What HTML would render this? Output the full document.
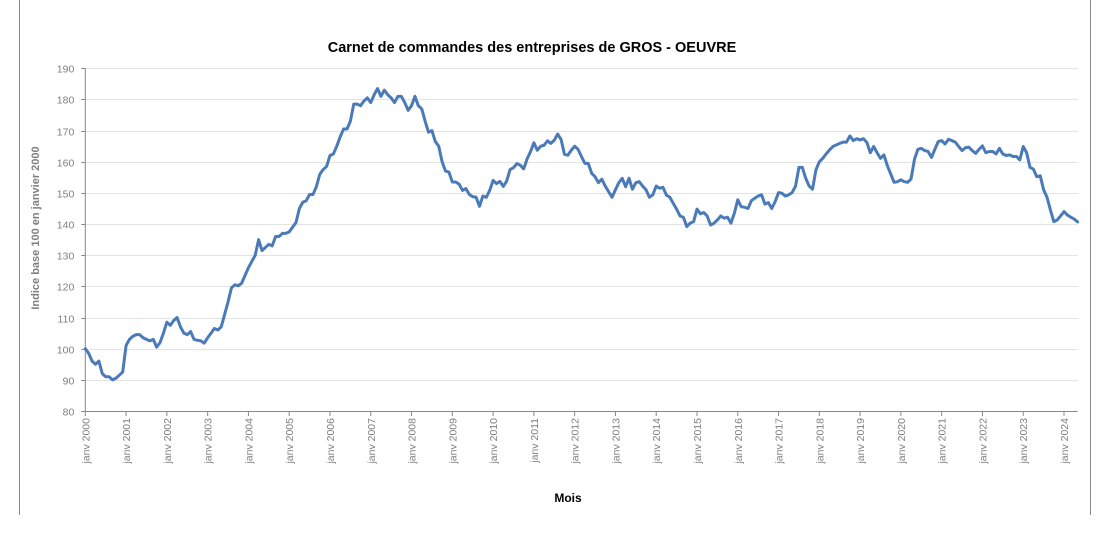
<!DOCTYPE html>
<html><head><meta charset="utf-8">
<style>
html,body{margin:0;padding:0;background:#fff;}
svg{display:block;font-family:"Liberation Sans",sans-serif;}
</style></head>
<body>
<svg id="chart" width="1101" height="545" viewBox="0 0 1101 545">
<line x1="19.5" y1="0" x2="19.5" y2="515" stroke="#888" stroke-width="1"/>
<line x1="1090.5" y1="0" x2="1090.5" y2="515" stroke="#888" stroke-width="1"/>
<text x="532" y="52" text-anchor="middle" font-size="14.5" font-weight="bold" fill="#000">Carnet de commandes des entreprises de GROS - OEUVRE</text>
<text transform="translate(39,228) rotate(-90)" text-anchor="middle" font-size="11" font-weight="bold" fill="#7f7f7f">Indice base 100 en janvier 2000</text>
<text x="568" y="502" text-anchor="middle" font-size="12" font-weight="bold" fill="#000">Mois</text>
<g id="grid"></g>
<g id="axes"></g>
<g id="series"></g>
</svg>
<script>
const yTicks = [80,90,100,110,120,130,140,150,160,170,180,190];
const yearLabels = ["janv 2000","janv 2001","janv 2002","janv 2003","janv 2004","janv 2005","janv 2006","janv 2007","janv 2008","janv 2009","janv 2010","janv 2011","janv 2012","janv 2013","janv 2014","janv 2015","janv 2016","janv 2017","janv 2018","janv 2019","janv 2020","janv 2021","janv 2022","janv 2023","janv 2024"];
const values = [
100,98.5,96,95,96,92,91,91,90,90.5,91.5,92.5,
101,103,104,104.5,104.5,103.5,103,102.5,103,100.5,102,105,
108.5,107.5,109,110,107,105,104.5,105.5,103,102.7,102.5,101.8,
103.5,105,106.5,106,107,111,115,119.5,120.5,120.2,121,123.5,
126,128,130,135,131.5,132.5,133.5,133,136,136,137,137,
137.5,139,140.5,145,147,147.5,149.5,149.5,152,156,157.5,158.5,
162,162.5,165,168,170.5,170.5,173,178.5,178.5,178,179.5,180.5,
179,181.5,183.5,181,183,181.5,180.5,179,181,181,179,176.5,
178,181,178,177,173,169.5,170,166.5,165,160,157,156.7,
153.5,153.5,152.8,150.8,151.4,149.5,148.8,148.6,145.7,149,148.6,150.8,
154,153,153.7,152.1,153.8,157.5,158.1,159.4,158.9,157.7,160.9,163.2,
166.1,163.7,165,165.3,166.7,165.9,166.9,168.9,167.2,162.4,162.1,163.7,
165,164,161.7,159.5,159.5,156.3,155.2,153.3,154.4,152.2,150.4,148.6,
151,153.3,154.7,152,154.7,151.2,153.3,153.6,152.2,151,148.6,149.4,
152.2,151.5,151.8,149.3,148.6,146.7,144.8,142.6,142.2,139.2,140.3,140.8,
144.8,143.3,143.7,142.6,139.7,140.3,141.3,142.6,141.9,142.2,140.3,143.5,
147.8,145.6,145.4,145,147.5,148.3,149,149.4,146.4,146.9,145,147.2,
150.1,149.9,149,149.4,150.1,152.2,158.2,158.2,154.7,152.2,151.2,157.4,
160,161.1,162.5,163.8,164.9,165.4,165.9,166.3,166.3,168.3,166.8,167.4,
167,167.4,166.2,162.9,164.9,162.9,161.1,162.2,158.8,156.1,153.4,153.6,
154.2,153.6,153.4,154.5,160.8,164,164.3,163.6,163.3,161.4,164,166.5,
166.8,165.7,167.2,166.8,166.3,164.9,163.6,164.5,164.7,163.6,162.7,164,
165.1,162.9,163.3,163.3,162.5,164.3,162.5,162,162.2,161.7,161.7,160.6,
164.9,162.9,158.2,157.6,155.2,155.5,151,148.6,144.5,140.8,141.3,142.6,
144,142.9,142.2,141.6,140.7
];
const NS = "http://www.w3.org/2000/svg";
const X0 = 85.3, X1 = 1077.7, Y0 = 411, Y1 = 68.3, YMIN = 80, YMAX = 190;
const monthW = (1064 - 85.3) / 288;
function xScale(i){ return X0 + i * monthW; }
function yScale(v){ return Y0 - (v - YMIN) / (YMAX - YMIN) * (Y0 - Y1); }
function mk(tag, attrs, parent){ const e = document.createElementNS(NS, tag); for (const k in attrs) e.setAttribute(k, attrs[k]); parent.appendChild(e); return e; }
const grid = document.getElementById('grid');
const axes = document.getElementById('axes');
const series = document.getElementById('series');
yTicks.forEach(t => {
  const y = Math.round(yScale(t)) + 0.5;
  if (t !== YMIN) {
    const g = mk('line', {x1: X0, x2: X1, y1: y, y2: y, stroke: '#e3e3e3', 'stroke-width': 1}, grid);
    
    
  }
  const tk = mk('line', {x1: X0 - 4, x2: X0, y1: y, y2: y, stroke: '#888'}, axes);
  
  
  const lb = mk('text', {x: X0 - 11, y: y + 4, 'text-anchor': 'end', 'font-size': 10.5, fill: '#7f7f7f'}, axes);
  lb.textContent = t;
  
  
});
const yAxis = mk('line', {x1: X0, x2: X0, y1: Y1, y2: Y0, stroke: '#888'}, axes);


const xAxis = mk('line', {x1: X0, x2: X1, y1: Y0 + 0.5, y2: Y0 + 0.5, stroke: '#888'}, axes);


yearLabels.forEach((lab, k) => {
  const x = xScale(k * 12);
  const tk = mk('line', {x1: x, x2: x, y1: Y0, y2: Y0 + 5, stroke: '#888'}, axes);
  
  
  const tx = mk('text', {transform: 'translate(' + (x + 4) + ',' + (Y0 + 7) + ') rotate(-90)', 'text-anchor': 'end', 'font-size': 10.5, fill: '#7f7f7f'}, axes);
  tx.textContent = lab;
  
  
});
const pts = values.map((v, i) => xScale(i).toFixed(2) + ',' + yScale(v).toFixed(2)).join(' ');
const line = mk('polyline', {points: pts, fill: 'none', stroke: '#4a7ab8', 'stroke-width': 3, 'stroke-linejoin': 'round', 'stroke-linecap': 'round'}, series);


</script>
</body></html>
